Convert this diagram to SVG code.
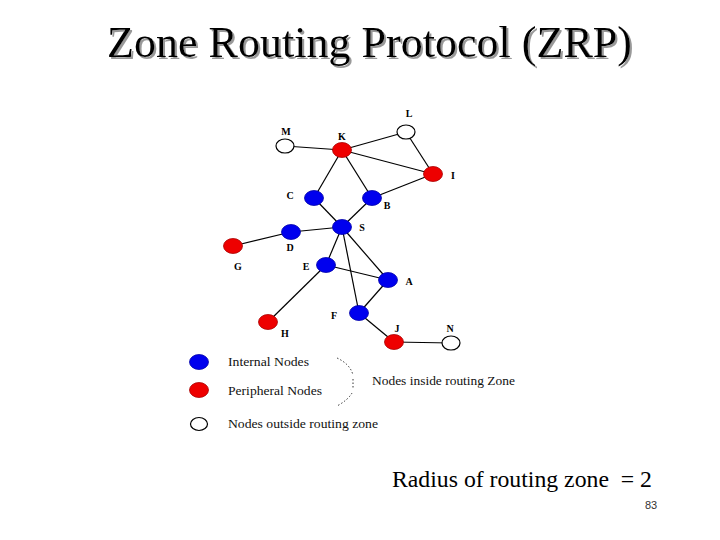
<svg xmlns="http://www.w3.org/2000/svg" width="720" height="540" viewBox="0 0 720 540">
<style>
.edge{stroke:#000;stroke-width:1.2;fill:none}
.int{fill:#0000ee;stroke:#0000aa;stroke-width:0.8}
.per{fill:#ee0000;stroke:#aa0000;stroke-width:0.8}
.out{fill:#fff;stroke:#000;stroke-width:1.2}
.lbl{font-family:"Liberation Serif","Times New Roman",serif;font-size:10px;font-weight:bold;fill:#000}
.leg{font-family:"Liberation Serif","Times New Roman",serif;font-size:12px;fill:#111}
.title{font-family:"Liberation Serif","Times New Roman",serif;font-size:44px;fill:#000}
.big{font-family:"Liberation Serif","Times New Roman",serif;font-size:23px;fill:#000}
.num{font-family:"Liberation Sans",Arial,sans-serif;font-size:11px;fill:#333}
</style>
<defs>
<filter id="shadow" x="-5%" y="-20%" width="110%" height="150%">
<feOffset in="SourceAlpha" dx="2" dy="2" result="o"/>
<feFlood flood-color="#999"/>
<feComposite in2="o" operator="in" result="s"/>
<feMerge><feMergeNode in="s"/><feMergeNode in="SourceGraphic"/></feMerge>
</filter>
</defs>
<rect width="720" height="540" fill="#fff"/>
<g id="title">
<text class="title" x="107" y="57" textLength="525" lengthAdjust="spacingAndGlyphs" filter="url(#shadow)">Zone Routing Protocol (ZRP)</text>
</g>
<g id="connectors">
<line class="edge" x1="285" y1="146" x2="342" y2="150"/>
<line class="edge" x1="342" y1="150" x2="406" y2="132"/>
<line class="edge" x1="406" y1="132" x2="433" y2="174"/>
<line class="edge" x1="342" y1="150" x2="433" y2="174"/>
<line class="edge" x1="342" y1="150" x2="314" y2="198"/>
<line class="edge" x1="342" y1="150" x2="372" y2="198"/>
<line class="edge" x1="372" y1="198" x2="433" y2="174"/>
<line class="edge" x1="314" y1="198" x2="342" y2="227"/>
<line class="edge" x1="372" y1="198" x2="342" y2="227"/>
<line class="edge" x1="342" y1="227" x2="291" y2="232"/>
<line class="edge" x1="291" y1="232" x2="233" y2="246"/>
<line class="edge" x1="342" y1="227" x2="326" y2="265"/>
<line class="edge" x1="342" y1="227" x2="388" y2="280"/>
<line class="edge" x1="342" y1="227" x2="359" y2="313"/>
<line class="edge" x1="326" y1="265" x2="388" y2="280"/>
<line class="edge" x1="326" y1="265" x2="268" y2="322"/>
<line class="edge" x1="388" y1="280" x2="359" y2="313"/>
<line class="edge" x1="359" y1="313" x2="394" y2="342"/>
<line class="edge" x1="394" y1="342" x2="451" y2="343"/>
</g>
<g id="M"><ellipse class="out" cx="285" cy="146" rx="9" ry="7"/><text class="lbl" x="286" y="135" text-anchor="middle">M</text></g>
<g id="K"><ellipse class="per" cx="342" cy="150" rx="9.5" ry="7.5"/><text class="lbl" x="342" y="140" text-anchor="middle">K</text></g>
<g id="L"><ellipse class="out" cx="406" cy="132" rx="9" ry="7"/><text class="lbl" x="409" y="117" text-anchor="middle">L</text></g>
<g id="I"><ellipse class="per" cx="433" cy="174" rx="9.5" ry="7.5"/><text class="lbl" x="453" y="179" text-anchor="middle">I</text></g>
<g id="C"><ellipse class="int" cx="314" cy="198" rx="9.5" ry="7.5"/><text class="lbl" x="290" y="199" text-anchor="middle">C</text></g>
<g id="B"><ellipse class="int" cx="372" cy="198" rx="9.5" ry="7.5"/><text class="lbl" x="387" y="209" text-anchor="middle">B</text></g>
<g id="S"><ellipse class="int" cx="342" cy="227" rx="9.5" ry="7.5"/><text class="lbl" x="362" y="231" text-anchor="middle">S</text></g>
<g id="D"><ellipse class="int" cx="291" cy="232" rx="9.5" ry="7.5"/><text class="lbl" x="290" y="251" text-anchor="middle">D</text></g>
<g id="G"><ellipse class="per" cx="233" cy="246" rx="9.5" ry="7.5"/><text class="lbl" x="238" y="270" text-anchor="middle">G</text></g>
<g id="E"><ellipse class="int" cx="326" cy="265" rx="9.5" ry="7.5"/><text class="lbl" x="306" y="270" text-anchor="middle">E</text></g>
<g id="A"><ellipse class="int" cx="388" cy="280" rx="9.5" ry="7.5"/><text class="lbl" x="409" y="285" text-anchor="middle">A</text></g>
<g id="F"><ellipse class="int" cx="359" cy="313" rx="9.5" ry="7.5"/><text class="lbl" x="334" y="319" text-anchor="middle">F</text></g>
<g id="H"><ellipse class="per" cx="268" cy="322" rx="9.5" ry="7.5"/><text class="lbl" x="285" y="337" text-anchor="middle">H</text></g>
<g id="J"><ellipse class="per" cx="394" cy="342" rx="9.5" ry="7.5"/><text class="lbl" x="397" y="332" text-anchor="middle">J</text></g>
<g id="N"><ellipse class="out" cx="451" cy="343" rx="9" ry="7"/><text class="lbl" x="450" y="332" text-anchor="middle">N</text></g>
<g id="legend">
<ellipse class="int" cx="199" cy="362" rx="9.5" ry="7.5"/>
<ellipse class="per" cx="199" cy="390" rx="9.5" ry="7.5"/>
<ellipse class="out" cx="199" cy="424" rx="8.5" ry="6.5"/>
<text class="leg" x="228" y="366" textLength="81" lengthAdjust="spacingAndGlyphs">Internal Nodes</text>
<text class="leg" x="228" y="395" textLength="94" lengthAdjust="spacingAndGlyphs">Peripheral Nodes</text>
<text class="leg" x="228" y="428" textLength="150" lengthAdjust="spacingAndGlyphs">Nodes outside routing zone</text>
<text class="leg" x="372" y="385" textLength="143" lengthAdjust="spacingAndGlyphs">Nodes inside routing Zone</text>
<path d="M337 358 Q350 364 353 375 M353 379 L353 389 M352 393 Q348 400 337 406" fill="none" stroke="#000" stroke-width="0.8" stroke-dasharray="1.5 2"/>
</g>
<text class="big" x="392" y="487" textLength="260" lengthAdjust="spacingAndGlyphs" xml:space="preserve">Radius of routing zone  = 2</text>
<text class="num" x="645" y="509">83</text>
</svg>
